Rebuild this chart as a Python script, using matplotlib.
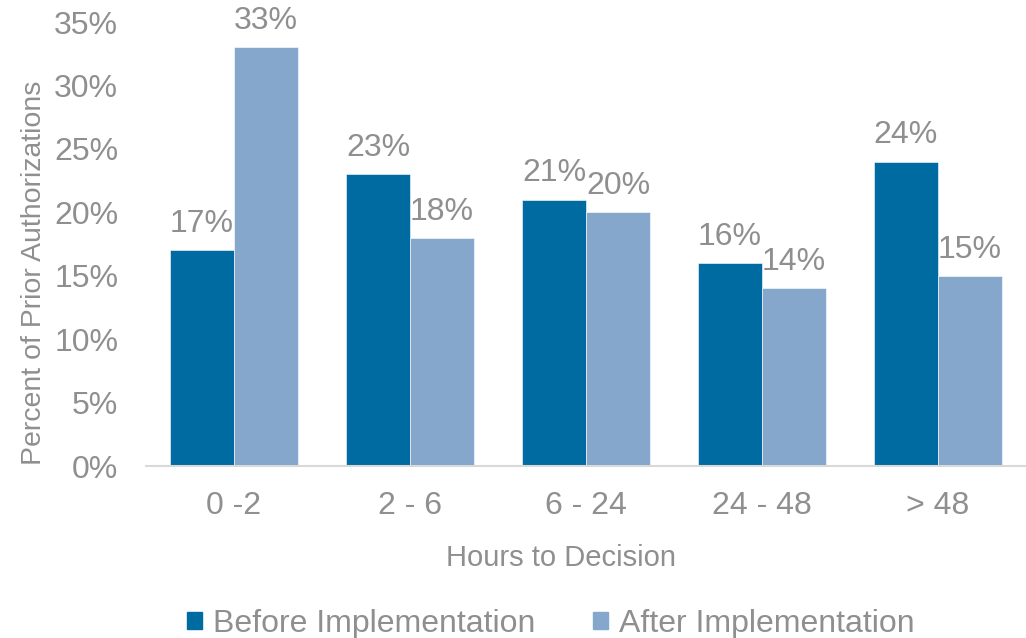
import numpy as np
import matplotlib.pyplot as plt
from matplotlib.patches import Patch

categories = ['0 -2', '2 - 6', '6 - 24', '24 - 48', '> 48']
before = [17, 23, 21, 16, 24]
after = [33, 18, 20, 14, 15]
series_names = ['Before Implementation', 'After Implementation']

BEFORE_COLOR = '#006BA1'
AFTER_COLOR = '#85A7CB'
TEXT_COLOR = '#8F8F8F'

plt.rcParams['font.family'] = ['Liberation Sans', 'DejaVu Sans']

fig = plt.figure(figsize=(10.26, 6.38), dpi=100)
ax = fig.add_axes([146/1026, 1 - 466/638, 880/1026, 444/638])

x = np.arange(len(categories))
width = 0.364
bars_b = ax.bar(x - width/2, before, width, color=BEFORE_COLOR, edgecolor='white', linewidth=0.4)
bars_a = ax.bar(x + width/2, after, width, color=AFTER_COLOR, edgecolor='white', linewidth=0.4)

# value labels above each bar
for bars, vals in [(bars_b, before), (bars_a, after)]:
    for b, v in zip(bars, vals):
        ax.annotate(f'{v}%', (b.get_x() + b.get_width()/2, v), xytext=(0, 8),
                    textcoords='offset points', ha='center', va='bottom',
                    fontsize=23, color=TEXT_COLOR, clip_on=False)

ax.set_xlim(-0.5, len(categories) - 0.5)
ax.set_ylim(0, 35)
ax.set_yticks(range(0, 36, 5))
ax.set_yticklabels([f'{t}%' for t in range(0, 36, 5)])
ax.set_xticks(x)
ax.set_xticklabels(categories)
ax.tick_params(axis='both', length=0, labelsize=23, labelcolor=TEXT_COLOR)
ax.tick_params(axis='y', pad=20)
ax.tick_params(axis='x', pad=18)

for side in ['top', 'right', 'left']:
    ax.spines[side].set_visible(False)
ax.spines['bottom'].set_color('#D9D9D9')
ax.spines['bottom'].set_linewidth(1.5)

ax.set_xlabel('Hours to Decision', fontsize=21, color=TEXT_COLOR)
ax.set_ylabel('Percent of Prior Authorizations', fontsize=20.5, color=TEXT_COLOR)
ax.xaxis.set_label_coords(0.4716, -0.176)
ax.yaxis.set_label_coords(-0.113, 0.435)

handles = [Patch(color=BEFORE_COLOR), Patch(color=AFTER_COLOR)]
fig.legend(handles, series_names, loc='center', bbox_to_anchor=(0.5366, 0.022), ncol=2,
           frameon=False, fontsize=23, labelcolor=TEXT_COLOR, handlelength=0.47,
           handleheight=0.47, handletextpad=0.35, columnspacing=1.8)

fig.savefig('out.png', dpi=100)
